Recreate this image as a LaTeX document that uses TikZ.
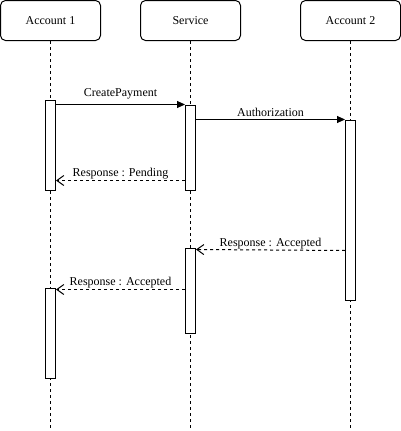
\documentclass[tikz,border=0pt]{standalone}
\usepackage{fontspec}
\setmainfont{Liberation Serif}
\usetikzlibrary{arrows.meta}
\begin{document}
\begin{tikzpicture}[x=1pt,y=-1pt,
  head/.style={draw,rounded corners=5pt,minimum width=100pt,minimum height=40pt,inner sep=0pt,line width=1pt,font=\fontsize{12}{14}\selectfont,fill=white},
  act/.style={draw,fill=white,minimum width=10pt,inner sep=0pt,line width=1pt},
  life/.style={dashed,dash pattern=on 3pt off 3pt,line width=0.8pt},
  sync/.style={line width=1pt,-{Triangle[length=8pt,width=7pt]}},
  reply/.style={line width=1pt,dashed,dash pattern=on 3pt off 3pt,-{Straight Barb[length=7pt,width=10pt,line width=1pt]}},
  lbl/.style={font=\fontsize{12}{14}\selectfont,inner sep=0pt}]
\useasboundingbox (0,0) rectangle (401,431);
\node[head] (A1) at (50.5,20.5) {Account 1};
\node[head] (S) at (190.5,20.5) {Service};
\node[head] (A2) at (350.5,20.5) {Account 2};
\coordinate (e1) at (50.5,429);
\coordinate (e2) at (190.5,429);
\coordinate (e3) at (350.5,429);
\draw[life] (A1.south) -- (e1);
\draw[life] (S.south) -- (e2);
\draw[life] (A2.south) -- (e3);
\node[act,minimum height=90pt] (A1a) at (50.5,145) {};
\node[act,minimum height=85pt] (Sa) at (190.5,147.5) {};
\node[act,minimum height=180pt] (A2a) at (350.5,210) {};
\node[act,minimum height=85pt] (Sb) at (190.5,290.5) {};
\node[act,minimum height=90pt] (A1b) at (50.5,333) {};
\draw[sync] ([yshift=-5pt]A1a.north east) -- (Sa.north west) node[lbl,midway,above=5pt] {CreatePayment};
\draw[sync] ([yshift=-15pt]Sa.north east) -- (A2a.north west) node[lbl,midway,above=2pt] {Authorization};
\draw[reply] ([yshift=10pt]Sa.south west) -- ([yshift=10pt]A1a.south east) node[lbl,midway,above=1pt] {Response : Pending};
\draw[reply] ([yshift=50pt]A2a.south west) -- ([yshift=-2pt]Sb.north east) node[lbl,midway,above=0.5pt] {Response : Accepted};
\draw[reply] ([yshift=-42pt]Sb.north west) -- ([yshift=-2pt]A1b.north east) node[lbl,midway,above=0.5pt] {Response : Accepted};
\end{tikzpicture}
\end{document}
